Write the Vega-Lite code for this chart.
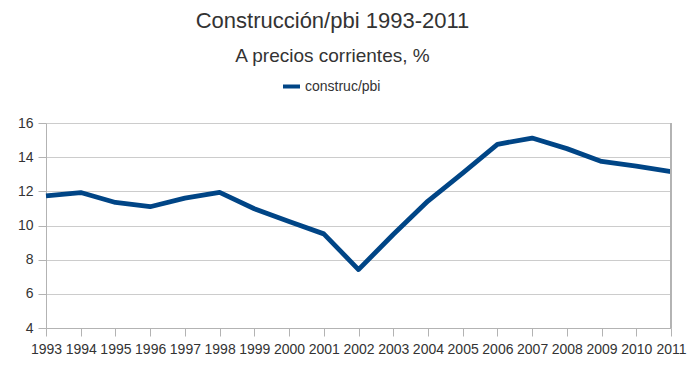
{
  "$schema": "https://vega.github.io/schema/vega-lite/v6.json",
  "width": 625,
  "height": 205,
  "autosize": {"type": "none"},
  "padding": {"left": 46, "top": 123, "right": 29, "bottom": 40},
  "background": "white",
  "config": {
    "font": "Liberation Sans",
    "view": {"stroke": null}
  },
  "title": {
    "text": "Construcción/pbi 1993-2011",
    "subtitle": "A precios corrientes, %",
    "anchor": "middle",
    "dx": -26,
    "fontSize": 22,
    "fontWeight": "normal",
    "color": "#333333",
    "subtitleFontSize": 19,
    "subtitleColor": "#333333",
    "subtitlePadding": 14,
    "offset": 9
  },
  "data": {
    "values": [
      {"year": "1993", "value": 11.74, "series": "construc/pbi"},
      {"year": "1994", "value": 11.93, "series": "construc/pbi"},
      {"year": "1995", "value": 11.35, "series": "construc/pbi"},
      {"year": "1996", "value": 11.1, "series": "construc/pbi"},
      {"year": "1997", "value": 11.6, "series": "construc/pbi"},
      {"year": "1998", "value": 11.94, "series": "construc/pbi"},
      {"year": "1999", "value": 10.98, "series": "construc/pbi"},
      {"year": "2000", "value": 10.23, "series": "construc/pbi"},
      {"year": "2001", "value": 9.51, "series": "construc/pbi"},
      {"year": "2002", "value": 7.42, "series": "construc/pbi"},
      {"year": "2003", "value": 9.47, "series": "construc/pbi"},
      {"year": "2004", "value": 11.43, "series": "construc/pbi"},
      {"year": "2005", "value": 13.07, "series": "construc/pbi"},
      {"year": "2006", "value": 14.75, "series": "construc/pbi"},
      {"year": "2007", "value": 15.12, "series": "construc/pbi"},
      {"year": "2008", "value": 14.5, "series": "construc/pbi"},
      {"year": "2009", "value": 13.75, "series": "construc/pbi"},
      {"year": "2010", "value": 13.48, "series": "construc/pbi"},
      {"year": "2011", "value": 13.15, "series": "construc/pbi"}
    ]
  },
  "layer": [
    {
      "mark": {"type": "line", "strokeWidth": 4.8, "strokeJoin": "round"},
      "encoding": {
        "x": {
          "field": "year",
          "type": "ordinal",
          "scale": {"type": "point", "padding": 0},
          "axis": {
            "title": null,
            "labelAngle": 0,
            "labelFontSize": 14,
            "labelColor": "#333333",
            "labelPadding": 6,
            "labelOverlap": false,
            "tickSize": 8,
            "tickColor": "#b3b3b3",
            "domainColor": "#b3b3b3",
            "grid": false
          }
        },
        "y": {
          "field": "value",
          "type": "quantitative",
          "scale": {"domain": [4, 16], "nice": false, "zero": false},
          "axis": {
            "title": null,
            "values": [4, 6, 8, 10, 12, 14, 16],
            "labelFontSize": 14,
            "labelColor": "#333333",
            "labelPadding": 5,
            "tickSize": 8,
            "tickColor": "#b3b3b3",
            "domainColor": "#b3b3b3",
            "gridColor": "#cccccc",
            "grid": true
          }
        },
        "color": {
          "field": "series",
          "type": "nominal",
          "scale": {"range": ["#004586"]},
          "legend": {
            "orient": "none",
            "legendX": 235,
            "legendY": -47,
            "title": null,
            "symbolType": "stroke",
            "symbolStrokeWidth": 4,
            "symbolSize": 289,
            "labelFontSize": 14,
            "labelColor": "#333333",
            "labelOffset": 3,
            "padding": 0
          }
        }
      }
    },
    {
      "mark": {"type": "rule", "color": "#b3b3b3", "strokeWidth": 1},
      "encoding": {"x": {"datum": "2011", "type": "ordinal"}}
    }
  ]
}
